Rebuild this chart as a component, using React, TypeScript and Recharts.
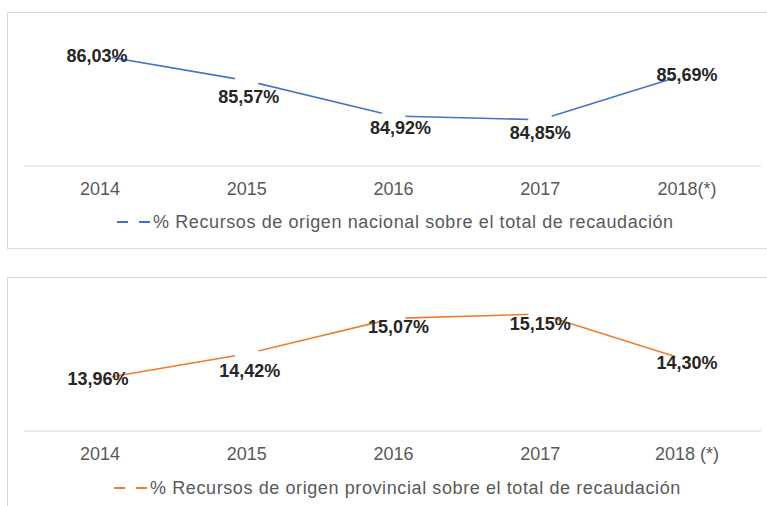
import React from 'react';
import { LineChart, Line, XAxis, YAxis, LabelList, Legend } from 'recharts';

const yearsTop = ['2014', '2015', '2016', '2017', '2018(*)'];
const yearsBottom = ['2014', '2015', '2016', '2017', '2018 (*)'];
const nacional = [86.03, 85.57, 84.92, 84.85, 85.69];
const provincial = [13.96, 14.42, 15.07, 15.15, 14.3];
const legendNacional = '% Recursos de origen nacional sobre el total de recaudación';
const legendProvincial = '% Recursos de origen provincial sobre el total de recaudación';

const topLabelDx = [-3, 2, 7, 0, 0];
const topLabelDy = [0, 16, 12, 13, 1];
const bottomLabelDx = [-2, 3, 5, 0, 0];
const bottomLabelDy = [0, 17, 9, 10, 3];

const FONT = '"Liberation Sans", Arial, sans-serif';
const BLUE = '#4472C4';
const ORANGE = '#ED7D31';

const fmt = (v: number) => v.toFixed(2).replace('.', ',') + '%';

const makeTick = (dy: number) => (props: any) => {
  const { x, y, payload } = props;
  return (
    <text x={x} y={y + dy} textAnchor="middle" dominantBaseline="central"
      fontFamily={FONT} fontSize={18} fill="#595959">
      {payload.value}
    </text>
  );
};

const makeLabel = (dxs: number[], dys: number[]) => (props: any) => {
  const { x, y, value, index } = props;
  return (
    <text x={x + dxs[index]} y={y + dys[index]} textAnchor="middle" dominantBaseline="central"
      fontFamily={FONT} fontSize={18} fontWeight="bold" fill="#262626">
      {fmt(value)}
    </text>
  );
};

const makeLegend = (text: string, color: string, x0: number) => () => (
  <svg width={767} height={24} style={{ display: 'block' }}>
    <line x1={x0} x2={x0 + 11} y1={12} y2={12} stroke={color} strokeWidth={2} />
    <line x1={x0 + 22} x2={x0 + 33} y1={12} y2={12} stroke={color} strokeWidth={2} />
    <text x={x0 + 36} y={12} dominantBaseline="central" fontFamily={FONT} fontSize={18}
      letterSpacing={0.6} fill="#595959">
      {text}
    </text>
  </svg>
);

function Panel(props: { cats: string[]; vals: number[]; color: string; domain: [number, number];
  dxs: number[]; dys: number[]; legend: string; legendX: number; legendTop: number }) {
  const data = props.cats.map((c, i) => ({ cat: c, v: props.vals[i] }));
  return (
    <LineChart width={767} height={250} data={data}
      margin={{ top: 30, left: 24, right: 6, bottom: 30 }}>
      <XAxis dataKey="cat" axisLine={{ stroke: '#d9d9d9', strokeWidth: 1 }} tickLine={false}
        tickSize={0} tickMargin={0} height={30} padding={{ left: 76, right: 74 }}
        tick={makeTick(23)} interval={0} />
      <YAxis hide domain={props.domain} />
      <Legend verticalAlign="bottom" content={makeLegend(props.legend, props.color, props.legendX)}
        wrapperStyle={{ left: 0, top: props.legendTop, bottom: 'auto', width: 767, height: 24 }} />
      <Line dataKey="v" stroke={props.color} strokeWidth={1.6} isAnimationActive={false}
        dot={{ r: 12, fill: '#ffffff', stroke: 'none' }} activeDot={false} legendType="none">
        <LabelList dataKey="v" content={makeLabel(props.dxs, props.dys)} />
      </Line>
    </LineChart>
  );
}

export default function App() {
  return (
    <div style={{ position: 'fixed', left: 0, top: 0, width: 767, height: 506, overflow: 'hidden', background: '#fff' }}>
      <div style={{ position: 'absolute', left: 7, top: 12, width: 800, height: 235, border: '1px solid #d9d9d9' }} />
      <div style={{ position: 'absolute', left: 7, top: 277, width: 800, height: 300, border: '1px solid #d9d9d9' }} />
      <div style={{ position: 'absolute', left: 0, top: 0 }}>
        <Panel cats={yearsTop} vals={nacional} color={BLUE} domain={[84, 86.5]}
          dxs={topLabelDx} dys={topLabelDy} legend={legendNacional} legendX={117} legendTop={210} />
      </div>
      <div style={{ position: 'absolute', left: 0, top: 265 }}>
        <Panel cats={yearsBottom} vals={provincial} color={ORANGE} domain={[13, 15.5]}
          dxs={bottomLabelDx} dys={bottomLabelDy} legend={legendProvincial} legendX={114} legendTop={211} />
      </div>
    </div>
  );
}
